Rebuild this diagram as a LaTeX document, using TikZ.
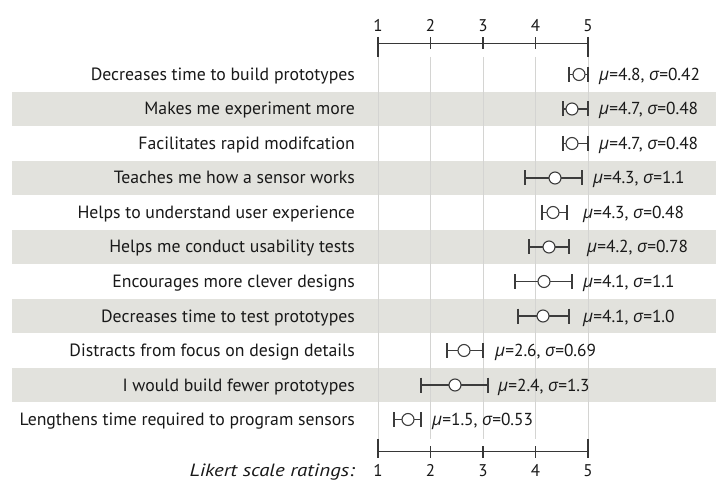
\documentclass[tikz,border=0pt]{standalone}
\usepackage{fontspec}
\setmainfont{PT Sans}
\newfontfamily\grk{Open Sans}
\newfontfamily\likertfont{PT Sans}[FakeStretch=1.18]
\definecolor{bandgray}{RGB}{226,226,221}
\definecolor{gridgray}{RGB}{212,212,210}
\definecolor{axisgray}{RGB}{55,55,55}
\definecolor{bargray}{RGB}{60,60,60}
\newcommand\mystat[2]{{\grk\itshape μ}=#1, {\grk\itshape σ}=#2}
\tikzset{
  rowtxt/.style={anchor=base east, inner sep=0pt, text=black!90, font=\fontsize{17.8}{20}\selectfont},
  stattxt/.style={anchor=base west, inner sep=0pt, text=black!90, font=\fontsize{17.4}{20}\selectfont},
  band/.style={fill=bandgray, draw=none},
  gridline/.style={draw=gridgray, line width=0.8bp},
  axisline/.style={draw=axisgray, line width=1.2bp},
  ebar/.style={draw=bargray, line width=1.2bp},
  meanpt/.style={circle, draw=bargray, fill=white, line width=1.1bp, minimum size=12bp, inner sep=0pt},
  axnum/.style={anchor=base, inner sep=0pt, text=black!90, font=\fontsize{17}{20}\selectfont}
}
\begin{document}
\begin{tikzpicture}[x=1bp,y=-1bp]
\useasboundingbox (0,0) rectangle (716,482);
\fill[white] (0,0) rectangle (716,482);
% bands
\foreach \i in {1,3,5,7,9}
  \fill[band] (12,{74.5+34.5*\i-17.25}) rectangle (716,{74.5+34.5*\i+17.25});
% grid lines
\foreach \k in {1,...,5}
  \draw[gridline] ({378+52.5*(\k-1)},57) -- ({378+52.5*(\k-1)},439);
% top axis
\draw[axisline] (378,43.5) -- (588,43.5);
\draw[axisline] (378,37) -- (378,57);
\draw[axisline] (588,37) -- (588,57);
\foreach \k in {2,3,4}
  \draw[axisline] ({378+52.5*(\k-1)},37.5) -- ({378+52.5*(\k-1)},49.5);
\foreach \k in {1,...,5}
  \node[axnum] (t\k) at ({378+52.5*(\k-1)},32) {\k};
% bottom axis
\draw[axisline] (378,451.5) -- (588,451.5);
\draw[axisline] (378,439) -- (378,457.5);
\draw[axisline] (588,439) -- (588,457.5);
\foreach \k in {2,3,4}
  \draw[axisline] ({378+52.5*(\k-1)},446) -- ({378+52.5*(\k-1)},457.5);
\foreach \k in {1,...,5}
  \node[axnum] (b\k) at ({378+52.5*(\k-1)},476) {\k};
\node[rowtxt, font=\fontsize{17.8}{20}\likertfont\itshape] (likert) at (355,476) {Likert scale ratings:};
% rows
\foreach \i/\txt/\l/\c/\r/\sx/\m/\s in {
  0/Decreases time to build prototypes/569/579/588/599/4.8/0.42,
  1/Makes me experiment more/563/572/588/599/4.7/0.48,
  2/Facilitates rapid modifcation/563/572/588/599/4.7/0.48,
  3/Teaches me how a sensor works/525/555/582/593/4.3/1.1,
  4/Helps to understand user experience/542/553/567/583/4.3/0.48,
  5/Helps me conduct usability tests/529/549/569/587/4.2/0.78,
  6/Encourages more clever designs/515/544/572/583/4.1/1.1,
  7/Decreases time to test prototypes/518/543/569/583/4.1/1.0,
  8/Distracts from focus on design details/447/464/483/495/2.6/0.69,
  9/I would build fewer prototypes/421/455/488/498/2.4/1.3,
  10/Lengthens time required to program sensors/394/408/421/432/1.5/0.53}
{
  \pgfmathsetmacro\yy{74.5+34.5*\i}
  \node[rowtxt] (lab\i) at (355,\yy+6) {\txt};
  \coordinate (lo\i) at (\l,\yy);
  \coordinate (hi\i) at (\r,\yy);
  \draw[ebar] (lo\i) -- (hi\i);
  \draw[ebar] (\l,\yy-7.5) -- (\l,\yy+7.5);
  \draw[ebar] (\r,\yy-7.5) -- (\r,\yy+7.5);
  \node[meanpt] (m\i) at (\c,\yy) {};
  \node[stattxt] (st\i) at (\sx,\yy+6) {\mystat{\m}{\s}};
}
\end{tikzpicture}
\end{document}
